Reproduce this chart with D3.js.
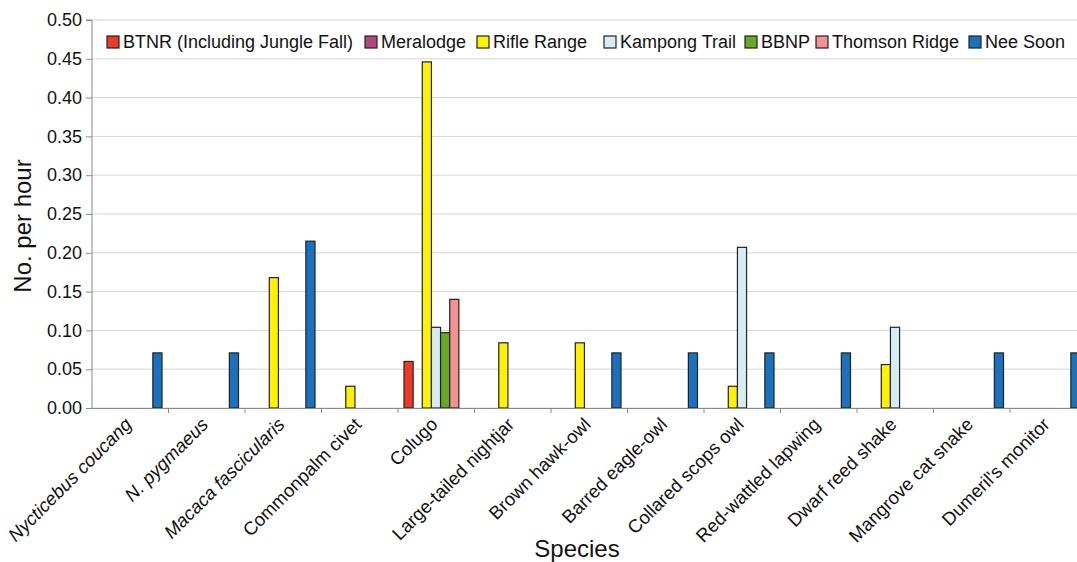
<!DOCTYPE html>
<html>
<head>
<meta charset="utf-8">
<script src="https://cdn.jsdelivr.net/npm/d3@7"></script>
<style>
  body { margin: 0; background: #fff; }
  svg { display: block; font-family: "Liberation Sans", Arial, sans-serif; }
</style>
</head>
<body>
<div id="chart"></div>
<script>
// species on the x axis
const species = ["Nycticebus coucang", "N. pygmaeus", "Macaca fascicularis", "Commonpalm civet",
  "Colugo", "Large-tailed nightjar", "Brown hawk-owl", "Barred eagle-owl", "Collared scops owl",
  "Red-wattled lapwing", "Dwarf reed shake", "Mangrove cat snake", "Dumeril's monitor"];
const italicSpecies = ["Nycticebus coucang", "N. pygmaeus", "Macaca fascicularis"];

const sites = ["BTNR (Including Jungle Fall)", "Meralodge", "Rifle Range", "Kampong Trail",
  "BBNP", "Thomson Ridge", "Nee Soon"];
const siteColors = ["#ec3a26", "#b3467b", "#fff200", "#d5ecf4", "#6aa923", "#f29292", "#1b71bd"];

// No. per hour, one array per site, in species order
const btnr     = [0, 0, 0, 0, 0.060, 0, 0, 0, 0, 0, 0, 0, 0];
const meralodge = [0, 0, 0, 0, 0, 0, 0, 0, 0, 0, 0, 0, 0];
const rifle    = [0, 0, 0.168, 0.028, 0.446, 0.084, 0.084, 0, 0.028, 0, 0.056, 0, 0];
const kampong  = [0, 0, 0, 0, 0.104, 0, 0, 0, 0.207, 0, 0.104, 0, 0];
const bbnp     = [0, 0, 0, 0, 0.097, 0, 0, 0, 0, 0, 0, 0, 0];
const thomson  = [0, 0, 0, 0, 0.140, 0, 0, 0, 0, 0, 0, 0, 0];
const neeSoon  = [0.071, 0.071, 0.215, 0, 0, 0, 0.071, 0.071, 0.071, 0.071, 0, 0.071, 0.071];
const seriesValues = [btnr, meralodge, rifle, kampong, bbnp, thomson, neeSoon];

const yTicks = [0, 0.05, 0.10, 0.15, 0.20, 0.25, 0.30, 0.35, 0.40, 0.45, 0.50];

const W = 1077, H = 562;
const mLeft = 92, mTop = 20, mBottom = 408, mRight = 1086.5;
// legend entry x positions (the legend lays its entries out in columns)
const legendX = [107, 365, 477, 604, 745, 816, 969];

const svg = d3.select("#chart").append("svg")
  .attr("width", W).attr("height", H);

const x = d3.scaleBand().domain(species).range([mLeft, mRight]).paddingInner(0).paddingOuter(0);
const inner = d3.scaleBand().domain(sites).range([6, x.bandwidth() - 6.5]).padding(0);
const y = d3.scaleLinear().domain([0, 0.5]).range([mBottom, mTop]);

// gridlines
svg.append("g").selectAll("line").data(yTicks).join("line")
  .attr("x1", mLeft).attr("x2", W)
  .attr("y1", d => y(d)).attr("y2", d => y(d))
  .attr("stroke", "#d6d6d6").attr("stroke-width", 1);

// bars (zero values are not drawn)
const bars = [];
seriesValues.forEach((vals, si) => {
  vals.forEach((v, ci) => { if (v > 0) bars.push({site: sites[si], color: siteColors[si], sp: species[ci], v: v}); });
});
svg.append("g").selectAll("rect").data(bars).join("rect")
  .attr("x", d => x(d.sp) + inner(d.site))
  .attr("width", inner.bandwidth())
  .attr("y", d => y(d.v))
  .attr("height", d => y(0) - y(d.v))
  .attr("fill", d => d.color)
  .attr("stroke", "#222").attr("stroke-width", 1.2);

// y axis
const yAxis = svg.append("g").attr("transform", `translate(${mLeft},0)`)
  .call(d3.axisLeft(y).tickValues(yTicks).tickFormat(d3.format(".2f")).tickSize(6).tickPadding(4));
yAxis.select(".domain").attr("stroke", "#8a8a8a").attr("d", `M-6,${mTop}H0V${mBottom}`);
yAxis.selectAll(".tick line").attr("stroke", "#8a8a8a");
yAxis.selectAll(".tick text").attr("font-size", 18).attr("fill", "#111")
  .attr("font-family", "Liberation Sans, Arial, sans-serif");

// x axis
const xAxis = svg.append("g").attr("transform", `translate(0,${mBottom})`);
xAxis.append("line").attr("x1", mLeft).attr("x2", W).attr("y1", 0.5).attr("y2", 0.5)
  .attr("stroke", "#8a8a8a");
xAxis.selectAll("line.tk").data(species.slice(1)).join("line").attr("class", "tk")
  .attr("x1", d => x(d)).attr("x2", d => x(d)).attr("y1", 0).attr("y2", 5)
  .attr("stroke", "#8a8a8a");
xAxis.selectAll("text").data(species).join("text")
  .attr("transform", d => `translate(${x(d) + x.bandwidth() / 2 - 2},${13}) rotate(-45)`)
  .attr("text-anchor", "end")
  .attr("dy", "0.35em")
  .attr("font-size", 18.5)
  .attr("font-style", d => italicSpecies.includes(d) ? "italic" : "normal")
  .attr("fill", "#111")
  .text(d => d);

// axis titles
svg.append("text").attr("x", 577).attr("y", 557).attr("text-anchor", "middle")
  .attr("font-size", 24).attr("fill", "#111").text("Species");
svg.append("text").attr("transform", `translate(31,226) rotate(-90)`).attr("text-anchor", "middle")
  .attr("font-size", 24).attr("fill", "#111").text("No. per hour");

// legend
const legend = svg.append("g").attr("transform", "translate(0,42)");
sites.forEach((s, i) => {
  const g = legend.append("g").attr("transform", `translate(${legendX[i]},0)`);
  g.append("rect").attr("x", 0).attr("y", -6).attr("width", 12).attr("height", 12)
    .attr("fill", siteColors[i]).attr("stroke", "#222").attr("stroke-width", 1.2);
  g.append("text").attr("x", 16).attr("y", 0).attr("dy", "0.36em")
    .attr("font-size", 18).attr("fill", "#111").text(s);
});
</script>
</body>
</html>
